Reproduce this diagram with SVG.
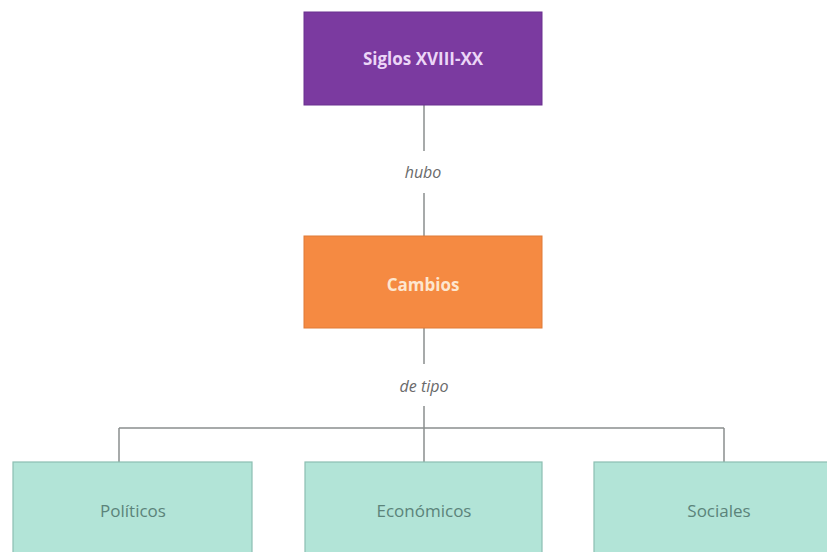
<svg xmlns="http://www.w3.org/2000/svg" width="827" height="552" viewBox="0 0 827 552">
<style>
.lbl{font-family:"Open Sans","Liberation Sans",sans-serif;font-size:17px;text-anchor:middle;dominant-baseline:central}
.hd{font-weight:bold;font-size:17px}
.conn{stroke:#8a8f8e;stroke-width:1.5;fill:none}
.leaf{fill:#b2e4d7;stroke:#8cbfb2;stroke-width:1.2}
.leaf-t{fill:#5b837a}
.edge-t{font-style:italic;fill:#6a6a6a;font-size:16px}
</style>
<rect width="827" height="552" fill="#ffffff"/>
<g id="connectors">
<path class="conn" d="M424 105V151M424 193V236"/>
<path class="conn" d="M424 328V364M424 406V428M119 428H724M119 428V462M424 428V462M724 428V462"/>
<text class="lbl edge-t" x="423" y="172">hubo</text>
<text class="lbl edge-t" x="424" y="386">de tipo</text>
</g>
<g id="siglos">
<rect x="304" y="12" width="238" height="93" fill="#7b3aa0" stroke="#6a3090" stroke-width="1"/>
<text class="lbl hd" x="423" y="58" fill="#ecd6f7">Siglos XVIII-XX</text>
</g>
<g id="cambios">
<rect x="304" y="236" width="238" height="92" fill="#f58a42" stroke="#e07a36" stroke-width="1"/>
<text class="lbl hd" x="423" y="284" fill="#fde6cf">Cambios</text>
</g>
<g id="politicos">
<rect class="leaf" x="13" y="462" width="239" height="92"/>
<text class="lbl leaf-t" x="133" y="510">Políticos</text>
</g>
<g id="economicos">
<rect class="leaf" x="305" y="462" width="237" height="92"/>
<text class="lbl leaf-t" x="424" y="510">Económicos</text>
</g>
<g id="sociales">
<rect class="leaf" x="594" y="462" width="238" height="92"/>
<text class="lbl leaf-t" x="719" y="510">Sociales</text>
</g>
</svg>
